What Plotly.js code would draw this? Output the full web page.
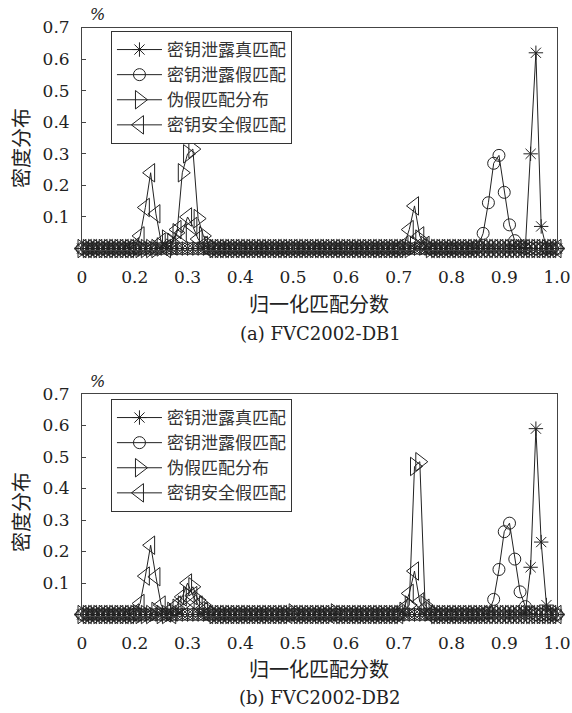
<!DOCTYPE html>
<html>
<head>
<meta charset="utf-8">
<script src="https://cdn.plot.ly/plotly-3.0.1.min.js"></script>
<style>html,body{margin:0;padding:0;background:#fff;}#chart{width:572px;height:713px;}</style>
</head>
<body>
<div id="chart"></div>
<script>
// Scores on the (mislabelled) axis: underlying position 0.10 ... 1.00, step 0.01
const xGrid = [
  0.10,0.11,0.12,0.13,0.14,0.15,0.16,0.17,0.18,0.19,
  0.20,0.21,0.22,0.23,0.24,0.25,0.26,0.27,0.28,0.29,
  0.30,0.31,0.32,0.33,0.34,0.35,0.36,0.37,0.38,0.39,
  0.40,0.41,0.42,0.43,0.44,0.45,0.46,0.47,0.48,0.49,
  0.50,0.51,0.52,0.53,0.54,0.55,0.56,0.57,0.58,0.59,
  0.60,0.61,0.62,0.63,0.64,0.65,0.66,0.67,0.68,0.69,
  0.70,0.71,0.72,0.73,0.74,0.75,0.76,0.77,0.78,0.79,
  0.80,0.81,0.82,0.83,0.84,0.85,0.86,0.87,0.88,0.89,
  0.90,0.91,0.92,0.93,0.94,0.95,0.96,0.97,0.98,0.99,
  1.00
];
const tickVals = [0.1,0.2,0.3,0.4,0.5,0.6,0.7,0.8,0.9,1.0];
const tickText = ['0','0.2','0.3','0.4','0.5','0.6','0.7','0.8','0.9','1.0'];
const yTickVals = [0.1,0.2,0.3,0.4,0.5,0.6,0.7];
const yTickText = ['0.1','0.2','0.3','0.4','0.5','0.6','0.7'];
const seriesNames = ['密钥泄露真匹配','密钥泄露假匹配','伪假匹配分布','密钥安全假匹配'];

// (a) FVC2002-DB1
const trueDB1 = [
  0,0,0,0,0,0,0,0,0,0,
  0,0,0,0,0,0,0,0,0,0,
  0,0,0,0,0,0,0,0,0,0,
  0,0,0,0,0,0,0,0,0,0,
  0,0,0,0,0,0,0,0,0,0,
  0,0,0,0,0,0,0,0,0,0,
  0,0,0,0,0,0,0,0,0,0,
  0,0,0,0,0,0,0,0,0,0,
  0,0,0,0,0.003,0.30,0.62,0.07,0,0,
  0
];
const falseDB1 = [
  0,0,0,0,0,0,0,0,0,0,
  0,0,0,0,0,0,0,0,0,0,
  0,0,0,0,0,0,0,0,0,0,
  0,0,0,0,0,0,0,0,0,0,
  0,0,0,0,0,0,0,0,0,0,
  0,0,0,0,0,0,0,0,0,0,
  0,0,0,0,0,0,0,0,0,0,
  0,0,0,0,0,0.005,0.048,0.145,0.27,0.295,
  0.178,0.075,0.025,0.005,0,0,0,0,0,0,
  0
];
const impostorDB1 = [
  0,0,0,0,0,0,0,0,0,0,
  0,0,0,0,0,0.005,0.03,0.02,0.05,0.24,
  0.30,0.315,0.095,0.04,0.01,0,0,0,0,0,
  0,0,0,0,0,0,0,0,0,0,
  0,0,0,0,0,0,0,0,0,0,
  0,0,0,0,0,0,0,0,0,0,
  0,0,0,0.01,0.03,0.01,0,0,0,0,
  0,0,0,0,0,0,0,0,0,0,
  0,0,0,0,0,0,0,0,0,0,
  0
];
const secureDB1 = [
  0,0,0,0,0,0,0,0,0,0,
  0.005,0.04,0.13,0.24,0.11,0.02,0,0.01,0.06,0.05,
  0.10,0.07,0.03,0.01,0,0,0,0,0,0,
  0,0,0,0,0,0,0,0,0,0,
  0,0,0,0,0,0,0,0,0,0,
  0,0,0,0,0,0,0,0,0,0,
  0,0.01,0.06,0.135,0.04,0.01,0,0,0,0,
  0,0,0,0,0,0,0,0,0,0,
  0,0,0,0,0,0,0,0,0,0,
  0
];

// (b) FVC2002-DB2
const trueDB2 = [
  0,0,0,0,0,0,0,0,0,0,
  0,0,0,0,0,0,0,0,0,0,
  0,0,0,0,0,0,0,0,0,0,
  0,0,0,0,0,0,0,0,0,0,
  0,0,0,0,0,0,0,0,0,0,
  0,0,0,0,0,0,0,0,0,0,
  0,0,0,0,0,0,0,0,0,0,
  0,0,0,0,0,0,0,0,0,0,
  0,0,0,0,0.005,0.15,0.59,0.23,0.03,0,
  0
];
const falseDB2 = [
  0,0,0,0,0,0,0,0,0,0,
  0,0,0,0,0,0,0,0,0,0,
  0,0,0,0,0,0,0,0,0,0,
  0,0,0,0,0,0,0,0,0,0,
  0,0,0,0,0,0,0,0,0,0,
  0,0,0,0,0,0,0,0,0,0,
  0,0,0,0,0,0,0,0,0,0,
  0,0,0,0,0,0,0,0.005,0.048,0.143,
  0.263,0.29,0.176,0.072,0.025,0.005,0,0,0,0,
  0
];
const impostorDB2 = [
  0,0,0,0,0,0,0,0,0,0,
  0,0,0,0,0.01,0,0,0.01,0.02,0.03,
  0.06,0.088,0.046,0.03,0.01,0,0,0,0,0,
  0,0,0,0,0,0,0,0,0,0,
  0.005,0,0,0,0,0,0,0,0.005,0,
  0,0,0,0,0,0,0,0,0,0,
  0,0.01,0.03,0.47,0.485,0.03,0.01,0,0,0,
  0,0,0,0,0,0,0,0,0,0,
  0,0,0,0,0,0,0,0,0,0,
  0
];
const secureDB2 = [
  0,0,0,0,0,0,0,0,0,0,
  0.005,0.035,0.122,0.22,0.12,0.03,0.005,0,0.03,0.056,
  0.10,0.06,0.03,0.01,0,0,0,0,0,0,
  0,0,0,0,0,0,0,0,0,0,
  0,0,0,0,0,0,0,0,0,0,
  0,0,0,0,0,0,0,0,0,0,
  0,0.02,0.067,0.138,0.04,0.02,0,0,0,0,
  0,0,0,0,0,0,0,0,0,0,
  0,0,0,0,0,0,0,0,0,0,
  0
];

const INK = '#222';
const symbols = ['asterisk-open','circle-open','triangle-right-open','triangle-left-open'];
const sizes = [12,12,16,16];

function mk(y, k, xa, ya, lg) {
  return {
    type: 'scatter', mode: 'lines+markers',
    x: xGrid, y: y, name: seriesNames[k],
    xaxis: xa, yaxis: ya, legend: lg,
    cliponaxis: false,
    line: {color: INK, width: 1},
    marker: {symbol: symbols[k], size: sizes[k], color: INK, line: {color: INK, width: 1}}
  };
}

const data = [
  mk(trueDB1,0,'x','y','legend'),
  mk(falseDB1,1,'x','y','legend'),
  mk(impostorDB1,2,'x','y','legend'),
  mk(secureDB1,3,'x','y','legend'),
  mk(trueDB2,0,'x2','y2','legend2'),
  mk(falseDB2,1,'x2','y2','legend2'),
  mk(impostorDB2,2,'x2','y2','legend2'),
  mk(secureDB2,3,'x2','y2','legend2')
];

const tickFont = {family: 'DejaVu Serif', size: 17, color: INK};
const cjk = 'Noto Sans CJK SC';

function xAxis(anchor) {
  return {
    anchor: anchor, domain: [0.1434, 0.9738], range: [0.1, 1.0],
    tickmode: 'array', tickvals: tickVals, ticktext: tickText,
    ticks: 'inside', ticklen: 4, tickcolor: '#444',
    showline: true, linecolor: '#444', linewidth: 1, mirror: true,
    showgrid: false, zeroline: false, tickfont: tickFont, ticklabelstandoff: 11
  };
}
function yAxis(anchor, dom) {
  return {
    anchor: anchor, domain: dom, range: [-0.005, 0.7],
    tickmode: 'array', tickvals: yTickVals, ticktext: yTickText,
    ticks: 'inside', ticklen: 4, tickcolor: '#444',
    showline: true, linecolor: '#444', linewidth: 1, mirror: true,
    showgrid: false, zeroline: false, tickfont: tickFont, ticklabelstandoff: 8
  };
}
const legendStyle = (y) => ({
  x: 0.194, xanchor: 'left', y: y, yanchor: 'top',
  bgcolor: '#fff', bordercolor: '#333', borderwidth: 1,
  font: {family: cjk, size: 17, color: '#333'},
  tracegroupgap: 0, itemwidth: 45
});

function note(text, px, py, font, angle) {
  return {text: text, xref: 'paper', yref: 'paper', x: px/572, y: 1 - py/713,
    xanchor: 'center', yanchor: 'middle', showarrow: false, font: font, textangle: angle || 0};
}
const serifNote = {family: 'DejaVu Serif', size: 18, color: INK};
const pctFont = {family: 'DejaVu Serif', size: 16, color: INK};
const cjkFont = {family: cjk, size: 20, color: INK};

const layout = {
  width: 572, height: 713,
  margin: {l: 0, r: 0, t: 0, b: 0},
  paper_bgcolor: '#fff', plot_bgcolor: '#fff',
  showlegend: true,
  xaxis: xAxis('y'),
  yaxis: yAxis('x', [0.6492, 0.9614]),
  xaxis2: xAxis('y2'),
  yaxis2: yAxis('x2', [0.1359, 0.4474]),
  legend: legendStyle(1 - 31/713),
  legend2: legendStyle(1 - 399/713),
  annotations: [
    note('<i>%</i>', 97, 15, pctFont),
    note('<i>%</i>', 97, 381, pctFont),
    note('密度分布', 20, 148, cjkFont, -90),
    note('密度分布', 20, 512, cjkFont, -90),
    note('归一化匹配分数', 319, 303, cjkFont),
    note('归一化匹配分数', 319, 668, cjkFont),
    note('(a) FVC2002-DB1', 320, 333, serifNote),
    note('(b) FVC2002-DB2', 320, 697, serifNote)
  ]
};

Plotly.newPlot('chart', data, layout, {staticPlot: true, displayModeBar: false});
</script>
</body>
</html>
